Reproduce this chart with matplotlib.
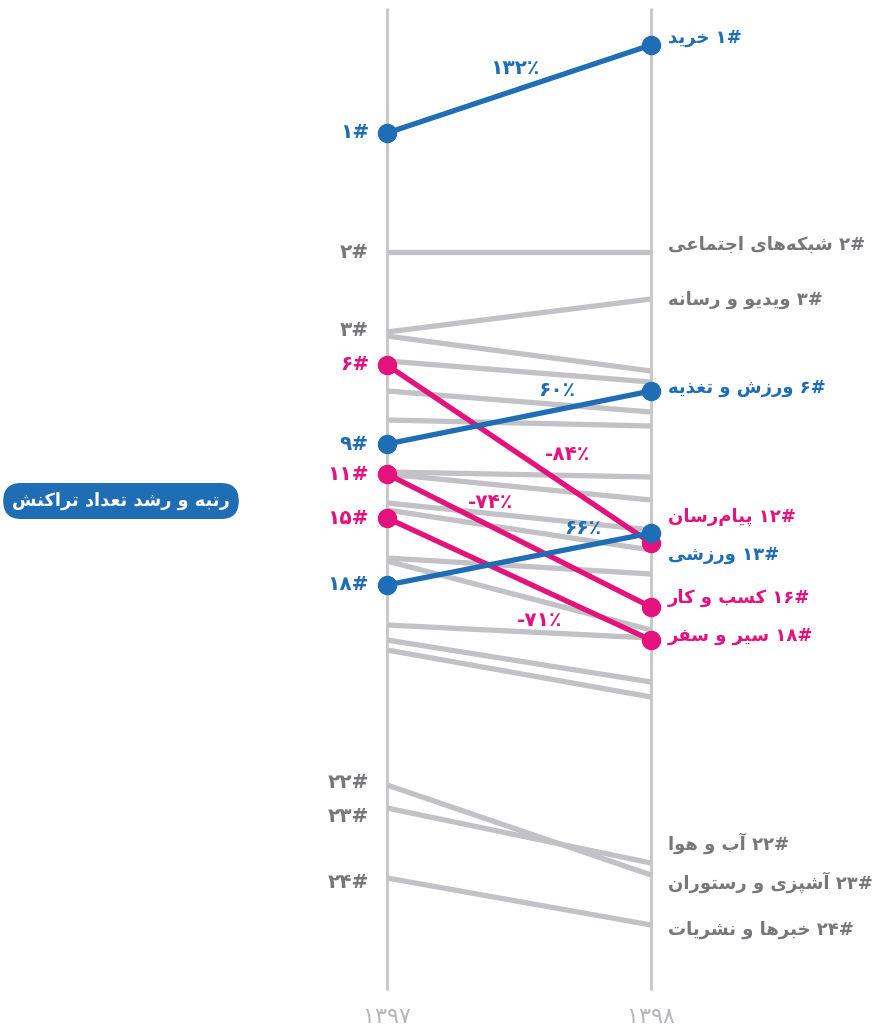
import matplotlib
matplotlib.use("Agg")
import matplotlib.pyplot as plt

# ---------------- data ----------------
years = ["۱۳۹۷", "۱۳۹۸"]

# highlighted series (vertical position units, top = 0)
hl_names = ["خرید", "ورزش و تغذیه", "ورزشی", "پیام‌رسان", "کسب و کار", "سیر و سفر"]
hl_y1397 = [133, 444, 585, 365, 474, 518]
hl_y1398 = [45, 391, 533, 543, 607, 640]
hl_rank1397 = ["۱", "۹", "۱۸", "۶", "۱۱", "۱۵"]
hl_rank1398 = ["۱", "۶", "۱۳", "۱۲", "۱۶", "۱۸"]
hl_growth = ["۱۳۲٪", "۶۰٪", "۶۶٪", "-۸۴٪", "-۷۴٪", "-۷۱٪"]
hl_kind = ["up", "up", "up", "down", "down", "down"]

# other categories (grey)
gr_y1397 = [252, 332, 336, 361, 391, 420, 472, 474, 503, 510, 558, 561,
            625, 640, 650, 785, 808, 878]
gr_y1398 = [252, 299, 371, 382, 412, 426, 477, 500, 530, 550, 574, 630,
            638, 682, 697, 875, 863, 925]

# grey labels
gr_left_ranks = ["۲", "۳", "۲۲", "۲۳", "۲۴"]
gr_left_y = [252, 330, 783, 817, 883]
gr_right_names = ["شبکه‌های اجتماعی", "ویدیو و رسانه", "آب و هوا",
                  "آشپزی و رستوران", "خبرها و نشریات"]
gr_right_ranks = ["۲", "۳", "۲۲", "۲۳", "۲۴"]
gr_right_y = [245, 300, 843, 882, 930]

title = "رتبه و رشد تعداد تراکنش"

# ---------------- Persian shaping helpers ----------------
FORMS = {
    '\u0627': ('\uFE8D', '\uFE8E', None, None),
    '\u0622': ('\uFE81', '\uFE82', None, None),
    '\u0628': ('\uFE8F', '\uFE90', '\uFE91', '\uFE92'),
    '\u067E': ('\uFB56', '\uFB57', '\uFB58', '\uFB59'),
    '\u062A': ('\uFE95', '\uFE96', '\uFE97', '\uFE98'),
    '\u062C': ('\uFE9D', '\uFE9E', '\uFE9F', '\uFEA0'),
    '\u062E': ('\uFEA5', '\uFEA6', '\uFEA7', '\uFEA8'),
    '\u062F': ('\uFEA9', '\uFEAA', None, None),
    '\u0630': ('\uFEAB', '\uFEAC', None, None),
    '\u0631': ('\uFEAD', '\uFEAE', None, None),
    '\u0632': ('\uFEAF', '\uFEB0', None, None),
    '\u0633': ('\uFEB1', '\uFEB2', '\uFEB3', '\uFEB4'),
    '\u0634': ('\uFEB5', '\uFEB6', '\uFEB7', '\uFEB8'),
    '\u0639': ('\uFEC9', '\uFECA', '\uFECB', '\uFECC'),
    '\u063A': ('\uFECD', '\uFECE', '\uFECF', '\uFED0'),
    '\u0641': ('\uFED1', '\uFED2', '\uFED3', '\uFED4'),
    '\u06A9': ('\uFB8E', '\uFB8F', '\uFB90', '\uFB91'),
    '\u0644': ('\uFEDD', '\uFEDE', '\uFEDF', '\uFEE0'),
    '\u0645': ('\uFEE1', '\uFEE2', '\uFEE3', '\uFEE4'),
    '\u0646': ('\uFEE5', '\uFEE6', '\uFEE7', '\uFEE8'),
    '\u0647': ('\uFEE9', '\uFEEA', '\uFEEB', '\uFEEC'),
    '\u0648': ('\uFEED', '\uFEEE', None, None),
    '\u06CC': ('\uFBFC', '\uFBFD', '\uFBFE', '\uFBFF'),
}
DIGITS = set("0123456789۰۱۲۳۴۵۶۷۸۹")


def shape(s):
    out = []
    n = len(s)
    for i, c in enumerate(s):
        if c not in FORMS:
            out.append(c)
            continue
        p = s[i - 1] if i > 0 else ''
        q = s[i + 1] if i < n - 1 else ''
        prev_join = p in FORMS and FORMS[p][2] is not None
        next_join = q in FORMS and FORMS[c][2] is not None
        iso, fin, ini, med = FORMS[c]
        if prev_join and next_join:
            out.append(med)
        elif prev_join:
            out.append(fin)
        elif next_join:
            out.append(ini)
        else:
            out.append(iso)
    return ''.join(ch for ch in out if ch != '\u200c')


def fa(s):
    r = shape(s)[::-1]
    res, run = [], []
    for ch in r:
        if ch in DIGITS:
            run.append(ch)
        else:
            if run:
                res.extend(run[::-1])
                run = []
            res.append(ch)
    if run:
        res.extend(run[::-1])
    return ''.join(res)


# ---------------- drawing ----------------
plt.rcParams['font.family'] = ['DejaVu Sans']
BLUE = "#1f6db5"
PINK = "#e3127c"
GREY_LINE = "#c2c2c6"
AXIS = "#c9c9cd"
GREY_TXT = "#77777b"

W, H = 881, 1029
fig = plt.figure(figsize=(W / 100, H / 100), dpi=100)
ax = fig.add_axes([0, 0, 1, 1])
x0px, x1px = 387, 651
span = x1px - x0px
ax.set_xlim(-x0px / span, (W - x0px) / span)
ax.set_ylim(H, 0)
ax.axis("off")


def xpx(p):
    return (p - x0px) / span


# vertical axes
for xv in (0, 1):
    ax.plot([xv, xv], [8, 990], color=AXIS, lw=2.2, zorder=1,
            solid_capstyle="butt")

# grey lines
for a, b in zip(gr_y1397, gr_y1398):
    ax.plot([0, 1], [a, b], color=GREY_LINE, lw=3.8, zorder=2,
            solid_capstyle="butt")

# highlighted lines (pink first so blue sits on top)
order = [i for i, k in enumerate(hl_kind) if k == "down"] + \
        [i for i, k in enumerate(hl_kind) if k == "up"]
for i in order:
    col = BLUE if hl_kind[i] == "up" else PINK
    ax.plot([0, 1], [hl_y1397[i], hl_y1398[i]], color=col, lw=3.8,
            marker="o", ms=13, zorder=3 + (1 if col == BLUE else 0),
            solid_capstyle="butt")

FSL = 14.5
FSR = 13
# left rank labels
for i in range(len(hl_names)):
    col = BLUE if hl_kind[i] == "up" else PINK
    ax.text(xpx(369), hl_y1397[i], hl_rank1397[i] + "#", color=col,
            fontsize=FSL, fontweight="bold", ha="right", va="center")
for r, y in zip(gr_left_ranks, gr_left_y):
    ax.text(xpx(369), y, r + "#", color=GREY_TXT, fontsize=FSL,
            fontweight="bold", ha="right", va="center")

# right labels
hl_right_y = [38, 388, 555, 517, 598, 636]
for i in range(len(hl_names)):
    col = BLUE if hl_kind[i] == "up" else PINK
    ax.text(xpx(668), hl_right_y[i], fa("#" + hl_rank1398[i] + " " + hl_names[i]),
            color=col, fontsize=FSR, fontweight="bold", ha="left", va="center")
for nm, r, y in zip(gr_right_names, gr_right_ranks, gr_right_y):
    ax.text(xpx(668), y, fa("#" + r + " " + nm), color=GREY_TXT,
            fontsize=FSR, fontweight="bold", ha="left", va="center")

# growth labels
growth_pos = [(515, 68), (557, 391), (583, 529), (568, 455), (491, 503), (540, 620)]
for i, (px, py) in enumerate(growth_pos):
    col = BLUE if hl_kind[i] == "up" else PINK
    ax.text(xpx(px), py, hl_growth[i], color=col, fontsize=14.5,
            fontweight="bold", ha="center", va="center")

# year labels
for xv, yr in zip((0, 1), years):
    ax.text(xv, 1017, yr, color="#b5b5b9", fontsize=16, ha="center",
            va="center")

# title badge
ax.text(xpx(121), 501, fa(title), color="white", fontsize=12.8,
        fontweight="bold", ha="center", va="center",
        bbox=dict(boxstyle="round,pad=0.5,rounding_size=1.0",
                  fc=BLUE, ec="none"))

fig.savefig("out.png", dpi=100)
